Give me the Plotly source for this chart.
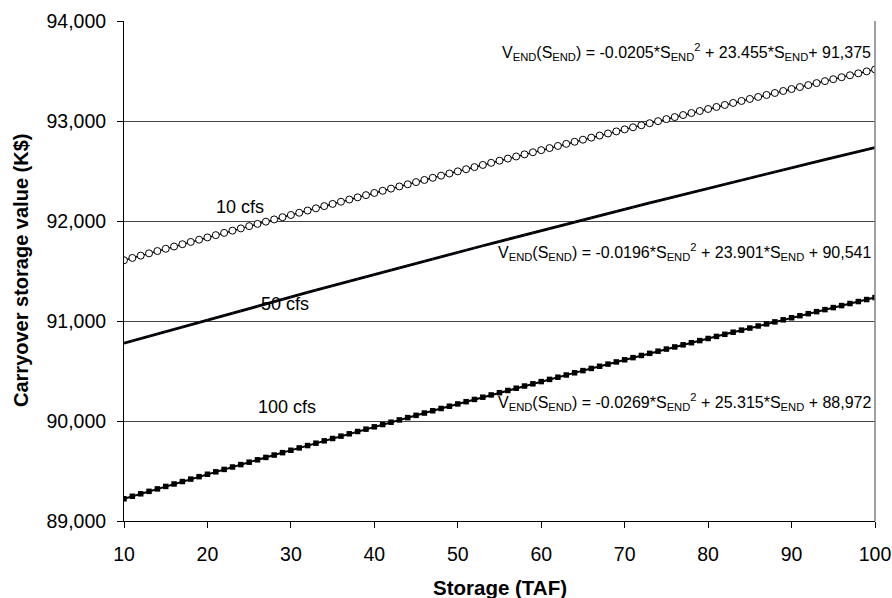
import plotly.graph_objects as go

# Carryover storage (TAF)
storage = list(range(10, 101))

# Carryover storage value (K$) for each release case
value_10cfs = [
    91607.5, 91630.5, 91653.5, 91676.5, 91699.4, 91722.2, 91745.0, 91767.8, 91790.5, 91813.2,
    91835.9, 91858.5, 91881.1, 91903.6, 91926.1, 91948.6, 91971.0, 91993.3, 92015.7, 92038.0,
    92060.2, 92082.4, 92104.6, 92126.7, 92148.8, 92170.8, 92192.8, 92214.8, 92236.7, 92258.6,
    92280.4, 92302.2, 92323.9, 92345.7, 92367.3, 92389.0, 92410.6, 92432.1, 92453.6, 92475.1,
    92496.5, 92517.9, 92539.2, 92560.5, 92581.8, 92603.0, 92624.2, 92645.3, 92666.4, 92687.5,
    92708.5, 92729.5, 92750.4, 92771.3, 92792.2, 92813.0, 92833.7, 92854.5, 92875.1, 92895.8,
    92916.4, 92937.0, 92957.5, 92978.0, 92998.4, 93018.8, 93039.2, 93059.5, 93079.8, 93100.0,
    93120.2, 93140.4, 93160.5, 93180.5, 93200.6, 93220.6, 93240.5, 93260.4, 93280.3, 93300.1,
    93319.9, 93339.6, 93359.3, 93379.0, 93398.6, 93418.2, 93437.8, 93457.3, 93476.7, 93496.1,
    93515.5,
]
value_50cfs = [
    90778.1, 90801.5, 90825.0, 90848.4, 90871.8, 90895.1, 90918.4, 90941.7, 90964.9, 90988.0,
    91011.2, 91034.3, 91057.3, 91080.4, 91103.3, 91126.3, 91149.2, 91172.0, 91194.9, 91217.6,
    91240.4, 91263.1, 91285.8, 91308.4, 91331.0, 91353.5, 91376.0, 91398.5, 91420.9, 91443.3,
    91465.7, 91488.0, 91510.3, 91532.5, 91554.7, 91576.9, 91599.0, 91621.1, 91643.1, 91665.1,
    91687.1, 91709.0, 91730.9, 91752.7, 91774.5, 91796.3, 91818.0, 91839.7, 91861.3, 91882.9,
    91904.5, 91926.0, 91947.5, 91969.0, 91990.4, 92011.8, 92033.1, 92054.4, 92075.6, 92096.9,
    92118.0, 92139.2, 92160.3, 92181.3, 92202.3, 92223.3, 92244.3, 92265.2, 92286.0, 92306.9,
    92327.6, 92348.4, 92369.1, 92389.8, 92410.4, 92431.0, 92451.5, 92472.0, 92492.5, 92512.9,
    92533.3, 92553.7, 92574.0, 92594.3, 92614.5, 92634.7, 92654.9, 92675.0, 92695.1, 92715.1,
    92735.1,
]
value_100cfs = [
    89222.5, 89247.2, 89271.9, 89296.5, 89321.1, 89345.7, 89370.2, 89394.6, 89419.0, 89443.3,
    89467.5, 89491.8, 89515.9, 89540.0, 89564.1, 89588.1, 89612.0, 89635.9, 89659.7, 89683.5,
    89707.2, 89730.9, 89754.5, 89778.1, 89801.6, 89825.1, 89848.5, 89871.8, 89895.1, 89918.4,
    89941.6, 89964.7, 89987.8, 90010.8, 90033.8, 90056.7, 90079.6, 90102.4, 90125.1, 90147.8,
    90170.5, 90193.1, 90215.6, 90238.1, 90260.6, 90283.0, 90305.3, 90327.6, 90349.8, 90371.9,
    90394.1, 90416.1, 90438.1, 90460.1, 90482.0, 90503.8, 90525.6, 90547.4, 90569.0, 90590.7,
    90612.2, 90633.8, 90655.2, 90676.6, 90698.0, 90719.3, 90740.6, 90761.8, 90782.9, 90804.0,
    90825.0, 90846.0, 90867.0, 90887.8, 90908.7, 90929.4, 90950.1, 90970.8, 90991.4, 91012.0,
    91032.5, 91052.9, 91073.3, 91093.6, 91113.9, 91134.2, 91154.3, 91174.5, 91194.5, 91214.5,
    91234.5,
]

series_labels = ["10 cfs", "50 cfs", "100 cfs"]
fit_labels = [
    "V<sub>END</sub>(S<sub>END</sub>) = -0.0205*S<sub>END</sub><sup>2</sup> + 23.455*S<sub>END</sub>+ 91,375",
    "V<sub>END</sub>(S<sub>END</sub>) = -0.0196*S<sub>END</sub><sup>2</sup> + 23.901*S<sub>END</sub> + 90,541",
    "V<sub>END</sub>(S<sub>END</sub>) = -0.0269*S<sub>END</sub><sup>2</sup> + 25.315*S<sub>END</sub> + 88,972",
]
x_ticks = [10, 20, 30, 40, 50, 60, 70, 80, 90, 100]
y_ticks = [89000, 90000, 91000, 92000, 93000, 94000]

FONT = "Liberation Sans, Arial, sans-serif"
TICK_SIZE = 19.5
TITLE_SIZE = 20

fig = go.Figure()

fig.add_trace(go.Scatter(
    x=storage, y=value_10cfs, mode="lines+markers", name=series_labels[0],
    line=dict(color="black", width=1.5),
    marker=dict(symbol="circle", size=7, color="white",
                line=dict(color="black", width=1)),
))
fig.add_trace(go.Scatter(
    x=storage, y=value_50cfs, mode="lines+markers", name=series_labels[1],
    line=dict(color="black", width=2.8),
    marker=dict(symbol="circle", size=2, color="#1a1a40"),
))
fig.add_trace(go.Scatter(
    x=storage, y=value_100cfs, mode="lines+markers", name=series_labels[2],
    line=dict(color="black", width=2),
    marker=dict(symbol="square", size=5.5, color="black"),
))

# Series names placed beside the curves
for txt, xv, yv in [(series_labels[0], 23.9, 92137),
                    (series_labels[1], 29.3, 91167),
                    (series_labels[2], 29.5, 90137)]:
    fig.add_annotation(x=xv, y=yv, text=txt, showarrow=False,
                       xanchor="center", yanchor="middle",
                       font=dict(family=FONT, size=18, color="black"))

# Fitted equations, right-aligned near the plot edge
for txt, yv in zip(fit_labels, [93687, 91687, 90187]):
    fig.add_annotation(x=99.7, y=yv, text=txt, showarrow=False,
                       xanchor="right", yanchor="middle",
                       font=dict(family=FONT, size=16, color="black"))

# Axis titles
fig.add_annotation(xref="paper", yref="paper", x=0.5, y=0, yshift=-66,
                   text="<b>Storage (TAF)</b>", showarrow=False,
                   xanchor="center", yanchor="middle",
                   font=dict(family=FONT, size=20.5, color="black"))
fig.add_annotation(xref="paper", yref="paper", x=0, y=0.5, xshift=-103,
                   text="<b>Carryover storage value (K$)</b>", showarrow=False,
                   textangle=-90, xanchor="center", yanchor="middle",
                   font=dict(family=FONT, size=TITLE_SIZE, color="black"))

fig.update_layout(
    width=892, height=598,
    margin=dict(l=124, r=17, t=21, b=77, autoexpand=False),
    paper_bgcolor="white", plot_bgcolor="white",
    showlegend=False,
    font=dict(family=FONT, color="black"),
    xaxis=dict(
        range=[10, 100], tickvals=x_ticks,
        ticks="outside", ticklen=6, tickcolor="black",
        ticklabelstandoff=10,
        showline=True, linecolor="black", linewidth=1,
        showgrid=False, zeroline=False, automargin=False,
        tickfont=dict(family=FONT, size=TICK_SIZE, color="black"),
    ),
    yaxis=dict(
        range=[89000, 94000], tickvals=y_ticks, tickformat=",d",
        ticks="outside", ticklen=6, tickcolor="black",
        ticklabelstandoff=7,
        showline=True, linecolor="black", linewidth=1,
        showgrid=True, gridcolor="#444444", gridwidth=1,
        zeroline=False, automargin=False,
        tickfont=dict(family=FONT, size=TICK_SIZE, color="black"),
    ),
)

# Plot-area frame on the right
fig.add_shape(type="line", xref="paper", yref="paper", x0=1, x1=1, y0=0, y1=1,
              line=dict(color="#808080", width=1.5))

fig.write_html("out.html")
